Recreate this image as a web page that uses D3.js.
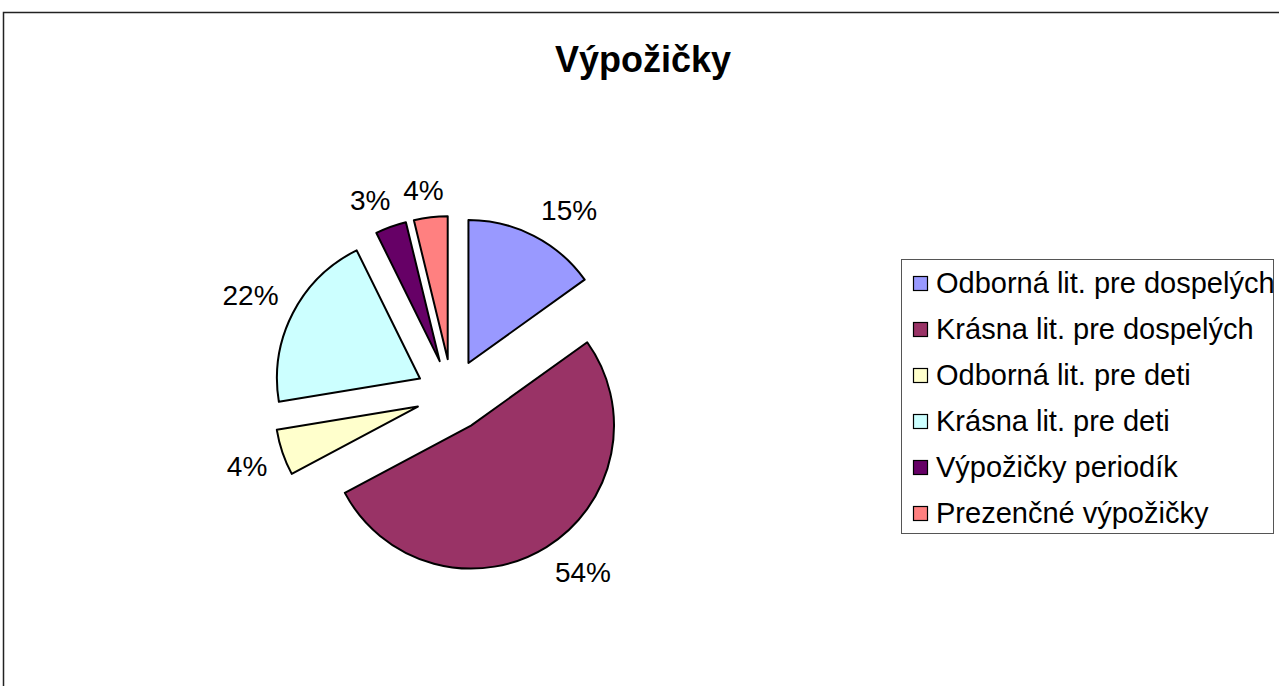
<!DOCTYPE html>
<html>
<head>
<meta charset="utf-8">
<script src="https://cdn.jsdelivr.net/npm/d3@7"></script>
<style>
    body { margin: 0; background: #fff; }
    svg { display: block; }
</style>
</head>
<body>
<svg></svg>
<script>
// data (slice shares in %, clockwise from 12 o'clock)
let categories = ['Odborná lit. pre dospelých', 'Krásna lit. pre dospelých', 'Odborná lit. pre deti',
                  'Krásna lit. pre deti', 'Výpožičky periodík', 'Prezenčné výpožičky']
let values = [15.1, 52.1, 5.2, 20.3, 3.5, 3.8]
let pctLabels = ['15%', '54%', '4%', '22%', '3%', '4%']
let colors = ['#9999FF', '#993366', '#FFFFCC', '#CCFFFF', '#660066', '#FF8080']

let width = 1279
let height = 686
let cx = 452
let cy = 395
let radius = 143
let explode = 36
let labelDist = 195
let fontFam = 'Arial, "Liberation Sans", sans-serif'

let svg = d3.select('svg')

let drawCanvas = () => {
    svg.attr('width', width)
    svg.attr('height', height)

    svg.append('rect')
        .attr('x', 3.5)
        .attr('y', 12.5)
        .attr('width', width + 20)
        .attr('height', height + 20)
        .attr('fill', 'white')
        .attr('stroke', '#222')
        .attr('stroke-width', 1.5)
}

let genTitle = () => {
    svg.append('text')
        .attr('x', 643)
        .attr('y', 72)
        .attr('text-anchor', 'middle')
        .style('font-family', fontFam)
        .style('font-size', '36px')
        .style('font-weight', 700)
        .text('Výpožičky')
}

let drawPie = () => {
    let pie = d3.pie().sort(null).value((d) => d)
    let arcs = pie(values)
    let arc = d3.arc().innerRadius(0).outerRadius(radius)

    let g = svg.append('g')
        .attr('transform', 'translate(' + cx + ',' + cy + ')')

    g.selectAll('path')
        .data(arcs)
        .enter()
        .append('path')
        .attr('d', arc)
        .attr('transform', (d) => {
            let a = (d.startAngle + d.endAngle) / 2
            return 'translate(' + (Math.sin(a) * explode) + ',' + (-Math.cos(a) * explode) + ')'
        })
        .attr('fill', (d, i) => colors[i])
        .attr('stroke', 'black')
        .attr('stroke-width', 2)
        .attr('stroke-linejoin', 'round')

    // label box is pushed off the anchor point on the bisector, away from the pie
    let fs = 28
    let clamp = (v) => Math.max(-1, Math.min(1, v * 2.2))
    g.selectAll('text.lbl')
        .data(arcs)
        .enter()
        .append('text')
        .attr('class', 'lbl')
        .attr('text-anchor', 'middle')
        .attr('dy', '0.36em')
        .style('font-family', fontFam)
        .style('font-size', fs + 'px')
        .text((d, i) => pctLabels[i])
        .each(function (d) {
            let a = (d.startAngle + d.endAngle) / 2
            let ux = Math.sin(a)
            let uy = -Math.cos(a)
            let w = this.getComputedTextLength()
            let x = ux * labelDist + clamp(ux) * w / 2
            let y = uy * labelDist + clamp(uy) * fs * 0.41
            d3.select(this).attr('x', x).attr('y', y)
        })
}

let genLegend = () => {
    let lx = 901
    let ly = 259
    let rowH = 46

    svg.append('rect')
        .attr('x', lx + 0.5)
        .attr('y', ly + 0.5)
        .attr('width', 372)
        .attr('height', 274)
        .attr('fill', 'white')
        .attr('stroke', '#555')
        .attr('stroke-width', 1)

    let rows = svg.selectAll('g.leg')
        .data(categories)
        .enter()
        .append('g')
        .attr('class', 'leg')
        .attr('transform', (d, i) => 'translate(' + lx + ',' + (ly + 24 + i * rowH) + ')')

    rows.append('rect')
        .attr('x', 12.5)
        .attr('y', -6.5)
        .attr('width', 14)
        .attr('height', 14)
        .attr('fill', (d, i) => colors[i])
        .attr('stroke', 'black')
        .attr('stroke-width', 1.2)

    rows.append('text')
        .attr('x', 35)
        .attr('dy', '0.36em')
        .style('font-family', fontFam)
        .style('font-size', '29px')
        .text((d) => d)
}

drawCanvas()
genTitle()
drawPie()
genLegend()
</script>
</body>
</html>
